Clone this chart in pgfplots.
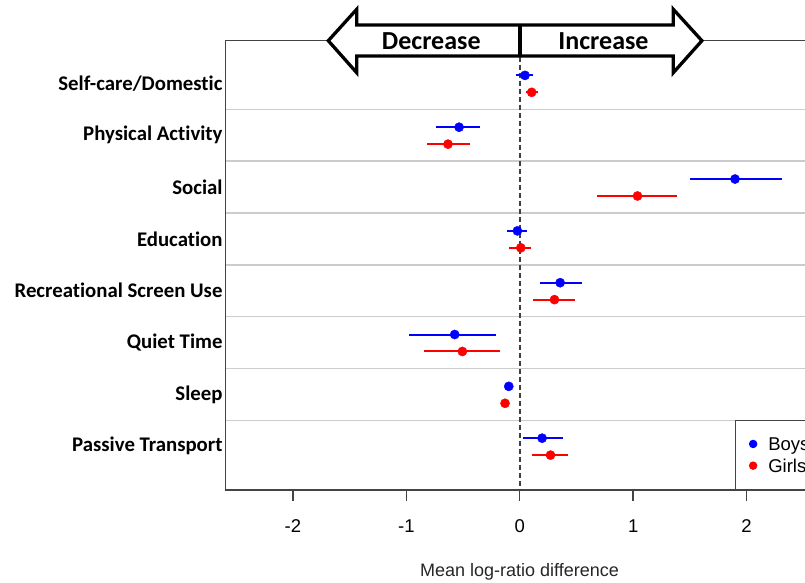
\documentclass[border=0pt]{standalone}
\usepackage{fontspec}
\setmainfont{Liberation Sans}
\newfontfamily\carlito[Ligatures=NoCommon]{Carlito}
\usepackage{pgfplots}
\pgfplotsset{compat=1.18}
\usepackage{pgfplotstable}

\definecolor{axcol}{HTML}{444444}
\definecolor{sepcol}{HTML}{CCCCCC}

\pgfplotstableread{
x y lo hi
0.046 -0.155 -0.034 0.115
-0.535 0.845 -0.735 -0.353
1.898 1.845 1.50 2.31
-0.021 2.845 -0.112 0.065
0.356 3.845 0.177 0.55
-0.574 4.845 -0.977 -0.212
-0.097 5.845 -0.12 -0.075
0.197 6.845 0.03 0.383
}\boys

\pgfplotstableread{
x y lo hi
0.105 0.172 0.056 0.16
-0.633 1.172 -0.815 -0.441
1.038 2.172 0.682 1.383
0.009 3.172 -0.094 0.097
0.306 4.172 0.115 0.49
-0.506 5.172 -0.845 -0.174
-0.13 6.172 -0.155 -0.105
0.271 7.172 0.109 0.424
}\girls

\begin{document}
\begin{tikzpicture}
\begin{axis}[
  at={(225.7bp,-490bp)}, anchor=south west,
  scale only axis, width=587.8bp, height=449.3bp,
  xmin=-2.593, xmax=2.59, ymin=-0.824, ymax=7.845, y dir=reverse,
  axis line style={draw=axcol, line width=1.4bp},
  clip=false,
  xtick={-2,-1,0,1,2}, xticklabels={-2,-1,0,1,2},
  xtick pos=left, tick align=outside, major tick length=11bp,
  xtick style={draw=axcol, line width=1.4bp},
  xticklabel style={font=\fontsize{18.5bp}{20bp}\selectfont, anchor=north, inner sep=0pt, yshift=-18.4bp},
  ytick={0,1,2,3,4,5,6,7},
  yticklabels={Self-care/Domestic,Physical Activity,Social,Education,Recreational Screen Use,Quiet Time,Sleep,Passive Transport},
  ytick pos=left, ytick style={draw=none},
  yticklabel style={font=\carlito\bfseries\fontsize{20.8bp}{22bp}\selectfont, anchor=east, inner sep=0pt, xshift=8bp},
  extra y ticks={0.5,1.5,2.5,3.5,4.5,5.5,6.5}, extra y tick labels={},
  extra y tick style={grid=major, major tick length=0pt},
  grid style={draw=sepcol, line width=1.5bp},
  legend style={at={(axis cs:1.898,7.845)}, anchor=south west, draw=axcol, line width=1.4bp,
    font=\fontsize{18.5bp}{20bp}\selectfont, inner xsep=13.2bp, inner ysep=17bp,
    row sep=8.4bp, cells={anchor=west},
    nodes={inner sep=0pt, text height=13.3bp, text depth=0pt},
    /tikz/every odd column/.append style={column sep=11bp}},
  legend cell align=left,
]
\addplot[black!75, line width=1.6bp, dash pattern=on 5bp off 3bp, forget plot] coordinates {(0,-0.824) (0,7.845)};
\addplot[blue, only marks, mark=*, mark size=4.6bp, mark options={fill=blue, draw=blue},
  legend image code/.code={\fill[blue] (0bp,0bp) circle (3.5bp);},
  error bars/.cd, x dir=both, x explicit, error mark=none, error bar style={line width=2bp, blue}]
  table[x=x, y=y, x error plus expr=\thisrow{hi}-\thisrow{x}, x error minus expr=\thisrow{x}-\thisrow{lo}] {\boys};
\addlegendentry{Boys}
\addplot[red, only marks, mark=*, mark size=4.6bp, mark options={fill=red, draw=red},
  legend image code/.code={\fill[red] (0bp,0bp) circle (3.5bp);},
  error bars/.cd, x dir=both, x explicit, error mark=none, error bar style={line width=2bp, red}]
  table[x=x, y=y, x error plus expr=\thisrow{hi}-\thisrow{x}, x error minus expr=\thisrow{x}-\thisrow{lo}] {\girls};
\addlegendentry{Girls}
\end{axis}
% double arrow annotation
\draw[black, line width=3.3bp, fill=white, line join=miter]
  (328.3bp,-40.7bp) -- (356.7bp,-9.3bp) -- (356.7bp,-25bp) -- (673.3bp,-25bp) -- (673.3bp,-9.3bp)
  -- (701.9bp,-40.7bp) -- (673.3bp,-72.7bp) -- (673.3bp,-56bp) -- (356.7bp,-56bp) -- (356.7bp,-72.7bp) -- cycle;
\draw[black, line width=3.3bp] (520bp,-25bp) -- (520bp,-56bp);
\node[font=\carlito\bfseries\fontsize{26bp}{28bp}\selectfont, inner sep=0pt] at (431.3bp,-41bp) {Decrease};
\node[font=\carlito\bfseries\fontsize{26bp}{28bp}\selectfont, inner sep=0pt] at (603.5bp,-41bp) {Increase};
\node[font=\fontsize{18bp}{20bp}\selectfont, inner sep=0pt, text=black!85] at (519.5bp,-572bp) {Mean log-ratio difference};
\pgfresetboundingbox
\useasboundingbox (0bp,0bp) rectangle (805bp,-583bp);
\end{tikzpicture}
\end{document}
